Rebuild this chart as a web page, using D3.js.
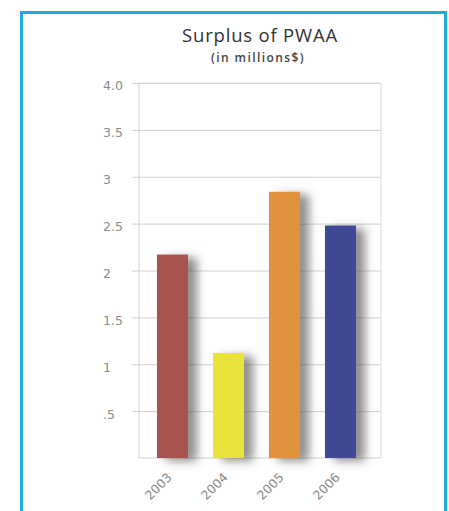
<!DOCTYPE html>
<html>
<head>
<meta charset="utf-8">
<script src="https://cdn.jsdelivr.net/npm/d3@7"></script>
<style>
  body { margin: 0; background: #fff; }
</style>
</head>
<body>
<div id="my_dataviz"></div>
<script>
// data
var years = ["2003", "2004", "2005", "2006"];
var surplus = [2.17, 1.12, 2.84, 2.48];
var barColors = ["#a8524e", "#e8e43a", "#e0923c", "#3f4a94"];
var tickValues = [0.5, 1, 1.5, 2, 2.5, 3, 3.5, 4];
var tickLabels = [".5", "1", "1.5", "2", "2.5", "3", "3.5", "4.0"];

var W = 449, H = 511;
var plot = {left: 139, right: 381, top: 83, bottom: 458};

var svg = d3.select("#my_dataviz")
  .append("svg")
    .attr("width", W)
    .attr("height", H);

// soft shadow for the bars
var defs = svg.append("defs");
var f = defs.append("filter")
    .attr("id", "shadow")
    .attr("x", "-50%").attr("y", "-20%")
    .attr("width", "220%").attr("height", "150%");
f.append("feDropShadow")
    .attr("dx", 9).attr("dy", 3)
    .attr("stdDeviation", 5)
    .attr("flood-color", "#444")
    .attr("flood-opacity", 0.6);

// blue frame round the whole thing
svg.append("rect")
    .attr("x", 21.5).attr("y", 12.5)
    .attr("width", 424).attr("height", 520)
    .attr("fill", "none")
    .attr("stroke", "#1aaee8")
    .attr("stroke-width", 3);

// title
svg.append("text")
    .attr("x", 260).attr("y", 42)
    .attr("text-anchor", "middle")
    .attr("font-family", "'Open Sans', sans-serif")
    .attr("font-size", 18.5)
    .attr("letter-spacing", 0.8)
    .attr("fill", "#333")
    .text("Surplus of PWAA");
svg.append("text")
    .attr("x", 258).attr("y", 62)
    .attr("text-anchor", "middle")
    .attr("font-family", "'Open Sans', sans-serif")
    .attr("font-size", 12)
    .attr("font-weight", 600)
    .attr("letter-spacing", 1.4)
    .attr("fill", "#444")
    .text("(in millions$)");

// scales
var y = d3.scaleLinear()
  .domain([0, 4])
  .range([plot.bottom, plot.top]);

var x = d3.scaleBand()
  .domain(years)
  .range([144.5, 368.5])
  .paddingInner(0.446)
  .paddingOuter(0.223);

// grid + y axis
var yAxis = svg.append("g")
    .attr("transform", "translate(" + plot.right + ",0)")
    .call(d3.axisLeft(y)
      .tickValues(tickValues)
      .tickSize(plot.right - 132)
      .tickFormat(function(d, i) { return tickLabels[i]; }));
yAxis.select(".domain").remove();
yAxis.selectAll(".tick line")
    .attr("stroke", "#cfcfcf");
yAxis.selectAll(".tick text")
    .attr("x", 103 - plot.right)
    .attr("dy", "0.55em")
    .attr("text-anchor", "start")
    .attr("font-family", "'DejaVu Sans', sans-serif")
    .attr("font-size", 12.5)
    .attr("fill", "#8a8a8a");

// plot frame
svg.append("line")
    .attr("x1", plot.left).attr("x2", plot.left)
    .attr("y1", plot.top).attr("y2", plot.bottom)
    .attr("stroke", "#cfcfcf");
svg.append("line")
    .attr("x1", plot.right).attr("x2", plot.right)
    .attr("y1", plot.top).attr("y2", plot.bottom)
    .attr("stroke", "#dadada");
svg.append("line")
    .attr("x1", plot.left).attr("x2", plot.right)
    .attr("y1", plot.top).attr("y2", plot.top)
    .attr("stroke", "#dadada");
svg.append("line")
    .attr("x1", plot.left).attr("x2", plot.right)
    .attr("y1", plot.bottom).attr("y2", plot.bottom)
    .attr("stroke", "#cfcfcf");

// bars
var data = years.map(function(d, i) { return {year: d, value: surplus[i], color: barColors[i]}; });
svg.selectAll("myRect")
  .data(data)
  .enter()
  .append("rect")
    .attr("x", function(d) { return x(d.year); })
    .attr("y", function(d) { return y(d.value); })
    .attr("width", x.bandwidth())
    .attr("height", function(d) { return y(0) - y(d.value); })
    .attr("fill", function(d) { return d.color; })
    .attr("filter", "url(#shadow)");

// x labels, rotated
var xAxis = svg.append("g")
    .attr("transform", "translate(0," + plot.bottom + ")")
    .call(d3.axisBottom(x).tickSize(0));
xAxis.select(".domain").remove();
xAxis.selectAll("text")
    .attr("transform", "translate(-5,15)rotate(-45)")
    .attr("dy", "0.35em")
    .style("text-anchor", "end")
    .attr("font-family", "'DejaVu Sans', sans-serif")
    .attr("font-size", 12.5)
    .attr("fill", "#8a8a8a");
</script>
</body>
</html>
